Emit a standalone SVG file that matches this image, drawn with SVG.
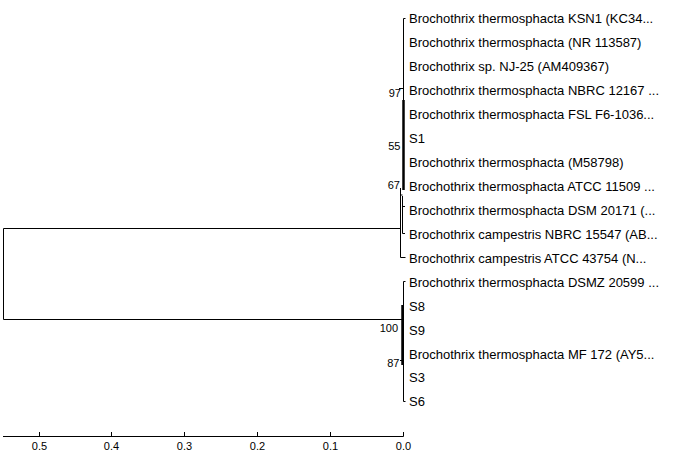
<svg xmlns="http://www.w3.org/2000/svg" width="680" height="468" viewBox="0 0 680 468">
<style>
.e{stroke:#000;stroke-width:1;fill:none}
.t{stroke:#000;stroke-width:2.5;fill:none}
.lf{font-family:"Liberation Sans",Arial,sans-serif;font-size:13px;fill:#000}
.bs{font-family:"Liberation Sans",Arial,sans-serif;font-size:11px;fill:#000;text-anchor:end}
.ax{font-family:"Liberation Sans",Arial,sans-serif;font-size:11px;fill:#000;text-anchor:middle}
</style>
<rect width="680" height="468" fill="#fff"/>
<g id="connectors">
<path class="e" d="M3.5,228.5V319.5M3.5,228.5H401M3.5,319.5H402.5"/>
<path class="e" d="M403.5,18.5V102M403.5,18.5H405.5M399,88.5H403.5"/>
<path class="t" d="M403.5,100V190"/>
<path class="e" d="M400.5,188V257.5H405.5M400.5,195H402.5M402.5,196V233.5M402.5,206.5H405M402.5,233.5H405"/>
<path class="e" d="M403.5,281.5V401.5H405.5M403.5,281.5H405.5"/>
<path class="t" d="M402.5,305V365"/>
<path class="e" d="M400,360.5H402"/>
</g>
<g id="leaves">
<text class="lf" x="409" y="22.5">Brochothrix thermosphacta KSN1 (KC34...</text>
<text class="lf" x="409" y="46.5">Brochothrix thermosphacta (NR 113587)</text>
<text class="lf" x="409" y="70.5">Brochothrix sp. NJ-25 (AM409367)</text>
<text class="lf" x="409" y="94.5">Brochothrix thermosphacta NBRC 12167 ...</text>
<text class="lf" x="409" y="118.5">Brochothrix thermosphacta FSL F6-1036...</text>
<text class="lf" x="409" y="142.5">S1</text>
<text class="lf" x="409" y="166.5">Brochothrix thermosphacta (M58798)</text>
<text class="lf" x="409" y="190.5">Brochothrix thermosphacta ATCC 11509 ...</text>
<text class="lf" x="409" y="214.5">Brochothrix thermosphacta DSM 20171 (...</text>
<text class="lf" x="409" y="238.5">Brochothrix campestris NBRC 15547 (AB...</text>
<text class="lf" x="409" y="262.5">Brochothrix campestris ATCC 43754 (N...</text>
<text class="lf" x="409" y="286.5">Brochothrix thermosphacta DSMZ 20599 ...</text>
<text class="lf" x="409" y="310.5">S8</text>
<text class="lf" x="409" y="334.5">S9</text>
<text class="lf" x="409" y="358.5">Brochothrix thermosphacta MF 172 (AY5...</text>
<text class="lf" x="409" y="381.5">S3</text>
<text class="lf" x="409" y="405.5">S6</text>
</g>
<g id="bootstrap">
<text class="bs" x="401" y="97">97</text>
<text class="bs" x="400.5" y="150">55</text>
<text class="bs" x="400" y="189">67</text>
<text class="bs" x="398" y="332">100</text>
<text class="bs" x="399.5" y="367">87</text>
</g>
<g id="axis">
<path class="e" d="M3,436.5H403.5M39.5,432V436.5M111.5,432V436.5M184.5,432V436.5M257.5,432V436.5M330.5,432V436.5M403.5,432V436.5"/>
<text class="ax" x="39.5" y="450">0.5</text>
<text class="ax" x="111.5" y="450">0.4</text>
<text class="ax" x="184.5" y="450">0.3</text>
<text class="ax" x="257.5" y="450">0.2</text>
<text class="ax" x="330.5" y="450">0.1</text>
<text class="ax" x="403.5" y="450">0.0</text>
</g>
</svg>
